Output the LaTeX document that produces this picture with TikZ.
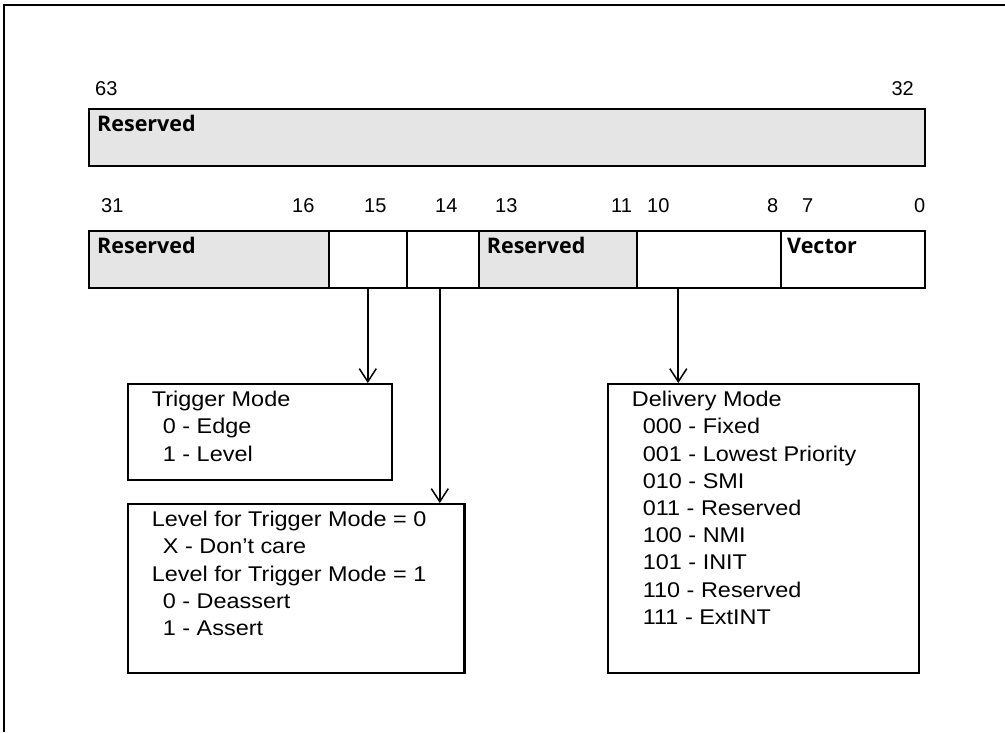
\documentclass[tikz,border=0pt]{standalone}
\usepackage{fontspec}
\setmainfont{Liberation Sans}
\newfontfamily\boxfont[FakeStretch=1.1]{Liberation Sans}
\newfontfamily\headfont{Open Sans}
\usetikzlibrary{arrows.meta}
\tikzset{
  cell/.style={draw, line width=2.2pt, inner sep=0pt, minimum height=57pt, anchor=north west},
  res/.style={cell, fill=black!10},
  desc/.style={draw, line width=2.2pt, inner sep=0pt, anchor=north west},
  bitnum/.style={font=\fontsize{20}{22}\selectfont, inner sep=0pt, anchor=base west},
  head/.style={font=\headfont\bfseries\fontsize{21.5}{24}\selectfont, inner sep=0pt, anchor=base west},
  body/.style={font=\boxfont\fontsize{21.3}{27.2}\selectfont, inner sep=0pt, anchor=north west, align=left},
  arr/.style={line width=1.8pt, -{Straight Barb[length=13pt, width=17pt, line width=1.5pt]}},
}
\begin{document}
\begin{tikzpicture}[x=1pt, y=-1pt]
\useasboundingbox (0,0) rectangle (1005,732);
% frame
\draw[line width=2pt] (4,732) -- (4,5) -- (1005,5);

% top row
\node[res, minimum width=836pt] (top) at (88,108) {};
\node[head] (topres) at ([xshift=9pt, yshift=-23pt]top.north west) {Reserved};
\node[bitnum] (b63) at (95,95) {63};
\node[bitnum, anchor=base east] (b32) at (914,95) {32};

% second row
\node[res,  minimum width=239.7pt] (c31) at (88,230) {};
\node[cell, minimum width=78pt]    (c15) at (327.7,230) {};
\node[cell, minimum width=72pt]    (c14) at (405.7,230) {};
\node[res,  minimum width=158pt]   (c13) at (477.7,230) {};
\node[cell, minimum width=144.3pt] (c10) at (635.7,230) {};
\node[cell, minimum width=143.5pt] (c7)  at (780,230) {};
\node[head] (res1) at ([xshift=9pt, yshift=-23pt]c31.north west) {Reserved};
\node[head] (res2) at ([xshift=9pt, yshift=-23pt]c13.north west) {Reserved};
\node[head] (vec)  at ([xshift=7pt, yshift=-23pt]c7.north west) {Vector};

\node[bitnum] (n31) at (101,212) {31};
\node[bitnum] (n16) at (292,212) {16};
\node[bitnum] (n15) at (364,212) {15};
\node[bitnum] (n14) at (435,212) {14};
\node[bitnum] (n13) at (495,212) {13};
\node[bitnum] (n11) at (611,212) {11};
\node[bitnum] (n10) at (647,212) {10};
\node[bitnum] (n8)  at (767,212) {8};
\node[bitnum] (n7)  at (802,212) {7};
\node[bitnum] (n0)  at (914,212) {0};

% description boxes
\node[desc, minimum width=264pt, minimum height=96pt] (trig) at (127,383) {};
\node[desc, minimum width=336.3pt, minimum height=168.7pt] (lvl) at (127,503) {};
\node[desc, minimum width=311pt, minimum height=289pt] (deliv) at (607,383) {};

\node[body] (trigtxt) at ([xshift=24.7pt, yshift=-4.5pt]trig.north west)
  {\strut Trigger Mode\\ \hspace*{11pt}0 - Edge\\ \hspace*{11pt}1 - Level};
\node[body] (lvltxt) at ([xshift=24.7pt, yshift=-4.5pt]lvl.north west)
  {\strut Level for Trigger Mode = 0\\ \hspace*{11pt}X - Don’t care\\ Level for Trigger Mode = 1\\ \hspace*{11pt}0 - Deassert\\ \hspace*{11pt}1 - Assert};
\node[body] (delivtxt) at ([xshift=24.7pt, yshift=-4.5pt]deliv.north west)
  {\strut Delivery Mode\\ \hspace*{11pt}000 - Fixed\\ \hspace*{11pt}001 - Lowest Priority\\ \hspace*{11pt}010 - SMI\\ \hspace*{11pt}011 - Reserved\\ \hspace*{11pt}100 - NMI\\ \hspace*{11pt}101 - INIT\\ \hspace*{11pt}110 - Reserved\\ \hspace*{11pt}111 - ExtINT};

% connectors
\draw[arr] (c15.south) -- (c15.south |- trig.north);
\draw[arr] ([xshift=-3pt]c14.south) -- ([xshift=-3pt]c14.south |- lvl.north);
\draw[arr] ([xshift=42.6pt]c10.south west) -- ([xshift=42.6pt]c10.south west |- deliv.north);
\end{tikzpicture}
\end{document}
